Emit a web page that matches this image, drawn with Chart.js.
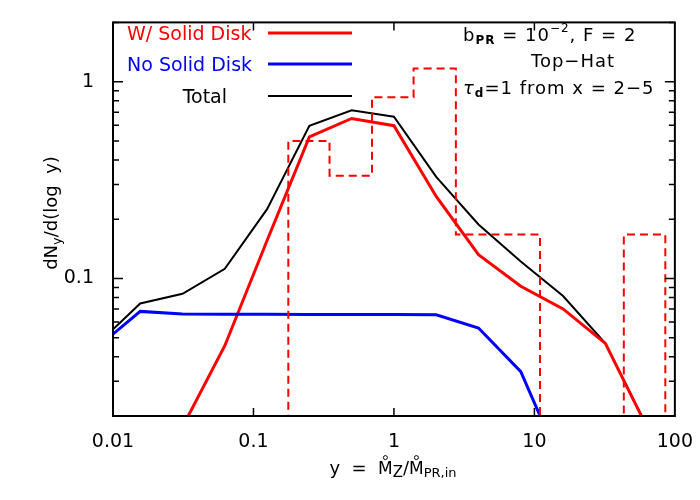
<!DOCTYPE html>
<html>
<head>
<meta charset="utf-8">
<script src="https://cdn.jsdelivr.net/npm/chart.js@4.4.1/dist/chart.umd.min.js"></script>
<style>
  html, body { margin: 0; padding: 0; background: #fff; }
  #wrap { width: 700px; height: 500px; }
</style>
</head>
<body>
<div id="wrap"><canvas id="c" width="700" height="500"></canvas></div>
<script>
// y = Mdot_Z / Mdot_PR,in, sampled at factors of 2
const yRatio = [0.0078125, 0.015625, 0.03125, 0.0625, 0.125, 0.25, 0.5, 1, 2, 4, 8, 16, 32, 64];
const withDisk = [0.0016, 0.0066, 0.0176, 0.0455, 0.156, 0.524, 0.65, 0.597, 0.261, 0.132, 0.0912, 0.070, 0.0468, 0.0173];
const noDisk   = [0.045, 0.068, 0.066, 0.0658, 0.0657, 0.0656, 0.0655, 0.0655, 0.0654, 0.056, 0.0336, 0.0108, 0.003, 0.0006];
const total    = [0.0466, 0.0746, 0.0836, 0.112, 0.225, 0.597, 0.716, 0.663, 0.328, 0.188, 0.122, 0.0814, 0.0468, 0.0173];

// top-hat histogram (bin edges and heights); 1e-4 = empty bin, below the axis
const histEdges  = [0.1, 0.177, 0.348, 0.698, 1.38, 2.76, 10.96, 43.3, 85.5];
const histHeight = [1e-4, 0.5, 0.333, 0.833, 1.167, 0.167, 1e-4, 0.167, 1e-4];

const xTickLabels = ["0.01", "0.1", "1", "10", "100"];
const yTickLabels = ["0.1", "1"];

const FONT = "'DejaVu Sans', sans-serif";
const RED = "#ff0000", BLUE = "#0000ff", BLACK = "#000000";

const pts = arr => yRatio.map((x, i) => ({ x, y: arr[i] }));

function isDecade(v) {
  const l = Math.log10(v);
  return Math.abs(l - Math.round(l)) < 1e-6;
}
function decadeLabel(v, allowed) {
  if (!isDecade(v)) return "";
  const s = String(Math.pow(10, Math.round(Math.log10(v))));
  return allowed.includes(s) ? s : "";
}

// draw a run of text pieces: {t, size, dy, bold, italic, ring}
function setFont(ctx, r) {
  ctx.font = `${r.italic ? "italic " : ""}${r.bold ? "bold " : ""}${r.size}px ${FONT}`;
}
function runWidth(ctx, runs) {
  let w = 0;
  runs.forEach(r => { setFont(ctx, r); w += ctx.measureText(r.t).width; });
  return w;
}
function drawRuns(ctx, x, y, runs, align) {
  let cx = x;
  if (align === "center") cx = x - runWidth(ctx, runs) / 2;
  if (align === "right") cx = x - runWidth(ctx, runs);
  const marks = [];
  runs.forEach(r => {
    setFont(ctx, r);
    ctx.fillText(r.t, cx, y + (r.dy || 0));
    const w = ctx.measureText(r.t).width;
    if (r.ring) marks.push({ x: cx + w / 2, y: y - r.size * 0.73 - 4 });
    cx += w;
  });
  marks.forEach(m => {
    ctx.beginPath();
    ctx.lineWidth = 1;
    ctx.arc(m.x, m.y, 2, 0, Math.PI * 2);
    ctx.stroke();
  });
}

const decor = {
  id: "decor",
  afterDraw(chart) {
    const { ctx, chartArea: a, scales } = chart;
    const xs = scales.x, ys = scales.y;
    ctx.save();
    ctx.strokeStyle = BLACK;
    ctx.fillStyle = BLACK;

    // frame
    ctx.lineWidth = 2;
    ctx.strokeRect(a.left, a.top, a.right - a.left, a.bottom - a.top);

    // x major ticks (bottom and top)
    ctx.lineWidth = 1.5;
    [0.1, 1, 10].forEach(v => {
      const px = xs.getPixelForValue(v);
      ctx.beginPath();
      ctx.moveTo(px, a.bottom); ctx.lineTo(px, a.bottom - 8);
      ctx.moveTo(px, a.top); ctx.lineTo(px, a.top + 8);
      ctx.stroke();
    });
    // y ticks (left and right), major + minor
    for (let e = -2; e <= 0; e++) {
      for (let m = 1; m <= 9; m++) {
        const v = m * Math.pow(10, e);
        if (v < ys.min * 0.999 || v > ys.max * 1.001) continue;
        const py = ys.getPixelForValue(v);
        const len = m === 1 ? 10 : 6;
        ctx.beginPath();
        ctx.moveTo(a.left, py); ctx.lineTo(a.left + len, py);
        ctx.moveTo(a.right, py); ctx.lineTo(a.right - len, py);
        ctx.stroke();
      }
    }

    // legend
    ctx.textBaseline = "alphabetic";
    const legend = [
      { t: "W/ Solid Disk", c: RED, w: 3, y: 33, align: "left", x: 127 },
      { t: "No Solid Disk", c: BLUE, w: 3, y: 64, align: "left", x: 127 },
      { t: "Total", c: BLACK, w: 2, y: 96, align: "right", x: 227 },
    ];
    legend.forEach(l => {
      ctx.fillStyle = l.c;
      ctx.font = `19px ${FONT}`;
      ctx.textAlign = l.align;
      ctx.fillText(l.t, l.x, l.y + 7);
      ctx.strokeStyle = l.c;
      ctx.lineWidth = l.w;
      ctx.beginPath();
      ctx.moveTo(268, l.y); ctx.lineTo(352, l.y);
      ctx.stroke();
    });

    // annotation
    ctx.fillStyle = BLACK;
    ctx.strokeStyle = BLACK;
    ctx.textAlign = "left";
    ctx.letterSpacing = "1px";
    drawRuns(ctx, 463, 41, [
      { t: "b", size: 18 },
      { t: "PR", size: 12, dy: 3, bold: true },
      { t: " = 10", size: 18 },
      { t: "\u22122", size: 12, dy: -9 },
      { t: ", F = 2", size: 18 },
    ]);
    drawRuns(ctx, 573, 67, [{ t: "Top\u2212Hat", size: 18 }], "center");
    drawRuns(ctx, 463, 94, [
      { t: "\u03C4", size: 18, italic: true },
      { t: "d", size: 12, dy: 3, bold: true },
      { t: "=1 from x = 2\u22125", size: 18 },
    ]);
    ctx.letterSpacing = "0px";

    // x axis title
    drawRuns(ctx, 393, 474, [
      { t: "y  =  ", size: 18 },
      { t: "M", size: 17, ring: true },
      { t: "Z", size: 15, dy: 3 },
      { t: "/", size: 18 },
      { t: "M", size: 17, ring: true },
      { t: "PR,in", size: 13, dy: 3 },
    ], "center");

    // y axis title (rotated)
    ctx.translate(57, 213);
    ctx.rotate(-Math.PI / 2);
    drawRuns(ctx, 0, 0, [
      { t: "dN", size: 18 },
      { t: "y", size: 13, dy: 4 },
      { t: "/d(log  y)", size: 18 },
    ], "center");

    ctx.restore();
  },
};

new Chart(document.getElementById("c").getContext("2d"), {
  type: "line",
  data: {
    datasets: [
      {
        label: "Top-Hat",
        data: histEdges.map((x, i) => ({ x, y: histHeight[i] })),
        borderColor: RED,
        borderWidth: 2,
        borderDash: [8, 5],
        stepped: "before",
        pointRadius: 0,
        fill: false,
      },
      {
        label: "No Solid Disk",
        data: pts(noDisk),
        borderColor: BLUE,
        borderWidth: 3,
        pointRadius: 0,
        tension: 0,
      },
      {
        label: "W/ Solid Disk",
        data: pts(withDisk),
        borderColor: RED,
        borderWidth: 3,
        pointRadius: 0,
        tension: 0,
      },
      {
        label: "Total",
        data: pts(total),
        borderColor: BLACK,
        borderWidth: 2,
        pointRadius: 0,
        tension: 0,
      },
    ],
  },
  options: {
    responsive: false,
    animation: false,
    events: [],
    layout: { padding: { left: 0, right: 25, top: 13, bottom: 0 } },
    plugins: { legend: { display: false }, tooltip: { enabled: false } },
    scales: {
      x: {
        type: "logarithmic",
        min: 0.01,
        max: 100,
        grid: { display: false },
        border: { display: false },
        afterFit: s => { s.height = 84; },
        ticks: {
          autoSkip: false,
          maxRotation: 0,
          padding: 7,
          color: BLACK,
          font: { family: FONT, size: 19 },
          callback: v => decadeLabel(v, xTickLabels),
        },
      },
      y: {
        type: "logarithmic",
        min: 0.02,
        max: 2,
        grid: { display: false },
        border: { display: false },
        afterFit: s => { s.width = 113; },
        ticks: {
          autoSkip: false,
          padding: 11,
          color: BLACK,
          font: { family: FONT, size: 19 },
          callback: v => decadeLabel(v, yTickLabels),
        },
      },
    },
  },
  plugins: [decor],
});
</script>
</body>
</html>
